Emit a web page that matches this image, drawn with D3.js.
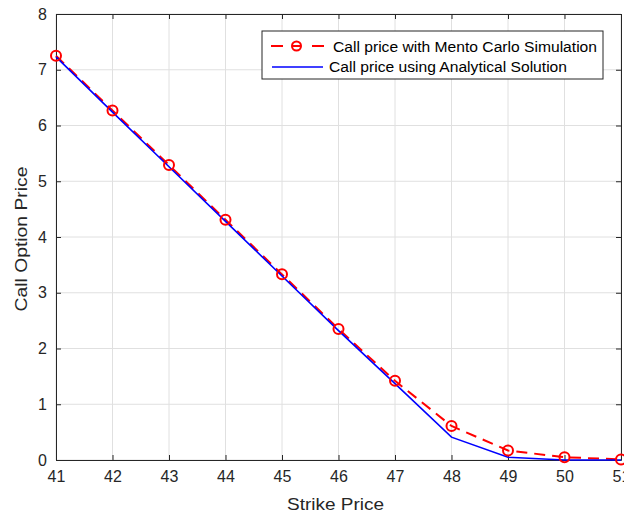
<!DOCTYPE html>
<html><head><meta charset="utf-8">
<script src="https://cdn.jsdelivr.net/npm/d3@7"></script>
<style>body{margin:0;background:#fff;} svg{display:block;font-family:"Liberation Sans",Arial,sans-serif;}</style>
</head><body><svg id="c" width="624" height="515"></svg>
<script>
const strikes = [41,42,43,44,45,46,47,48,49,50,51];
const mcPrices = [7.25,6.27,5.29,4.31,3.33,2.35,1.42,0.61,0.17,0.05,0.01];
const anPrices = [7.23,6.24,5.26,4.28,3.30,2.32,1.37,0.41,0.05,0.00,0.00];
const xTicks = [41,42,43,44,45,46,47,48,49,50,51];
const yTicks = [0,1,2,3,4,5,6,7,8];
const seriesNames = ["Call price with Mento Carlo Simulation","Call price using Analytical Solution"];

const svg = d3.select("#c");
const L=56, R=621, T=14, B=460;
const x = d3.scaleLinear().domain([41,51]).range([L,R]);
const y = d3.scaleLinear().domain([0,8]).range([B,T]);
const grid = svg.append("g");
xTicks.forEach(t=>grid.append("line").attr("x1",x(t)).attr("x2",x(t)).attr("y1",T).attr("y2",B).attr("stroke","#e0e0e0").attr("stroke-width",1));
yTicks.forEach(t=>grid.append("line").attr("x1",L).attr("x2",R).attr("y1",y(t)).attr("y2",y(t)).attr("stroke","#e0e0e0").attr("stroke-width",1));

const xa = svg.append("g").attr("transform",`translate(0,${B})`).call(d3.axisBottom(x).tickValues(xTicks).tickSizeInner(-5).tickSizeOuter(0).tickPadding(11));
const xt = svg.append("g").attr("transform",`translate(0,${T})`).call(d3.axisTop(x).tickValues(xTicks).tickSizeInner(-5).tickSizeOuter(0).tickFormat(""));
const ya = svg.append("g").attr("transform",`translate(${L},0)`).call(d3.axisLeft(y).tickValues(yTicks).tickSizeInner(-5).tickSizeOuter(0).tickPadding(9));
const yr = svg.append("g").attr("transform",`translate(${R},0)`).call(d3.axisRight(y).tickValues(yTicks).tickSizeInner(-5).tickSizeOuter(0).tickFormat(""));
[xa,xt,ya,yr].forEach(g=>{g.select(".domain").attr("stroke","#262626");g.selectAll(".tick line").attr("stroke","#262626");g.selectAll("text").attr("font-size",16).attr("fill","#262626").attr("font-family","Liberation Sans, Arial, sans-serif");});

const line = d3.line();
svg.append("path").attr("d",line(strikes.map((s,i)=>[x(s),y(mcPrices[i])]))).attr("fill","none").attr("stroke","#ff0000").attr("stroke-width",2).attr("stroke-dasharray","11,7");
svg.append("path").attr("d",line(strikes.map((s,i)=>[x(s),y(anPrices[i])]))).attr("fill","none").attr("stroke","#0000ff").attr("stroke-width",1.6);
svg.selectAll("circle.mc").data(strikes).enter().append("circle").attr("cx",d=>x(d)).attr("cy",(d,i)=>y(mcPrices[i])).attr("r",5).attr("fill","none").attr("stroke","#ff0000").attr("stroke-width",2);

svg.append("text").attr("x",335.5).attr("y",510).attr("text-anchor","middle").attr("font-size",17).attr("fill","#262626").attr("textLength",97).attr("lengthAdjust","spacingAndGlyphs").text("Strike Price");
svg.append("text").attr("transform",`translate(26.5,239) rotate(-90)`).attr("text-anchor","middle").attr("font-size",17).attr("fill","#262626").attr("textLength",145).attr("lengthAdjust","spacingAndGlyphs").text("Call Option Price");

const lg = svg.append("g");
lg.append("rect").attr("x",262).attr("y",31).attr("width",341).attr("height",48).attr("fill","#fff").attr("stroke","#262626").attr("stroke-width",1);
lg.append("line").attr("x1",271).attr("x2",324).attr("y1",46).attr("y2",46).attr("stroke","#ff0000").attr("stroke-width",2).attr("stroke-dasharray","12,9,9,11,12");
lg.append("circle").attr("cx",296.5).attr("cy",46).attr("r",4.5).attr("fill","none").attr("stroke","#ff0000").attr("stroke-width",2);
lg.append("text").attr("x",333).attr("y",51.5).attr("font-size",15.5).attr("fill","#000").attr("textLength",264).attr("lengthAdjust","spacingAndGlyphs").text(seriesNames[0]);
lg.append("line").attr("x1",272).attr("x2",323).attr("y1",67).attr("y2",67).attr("stroke","#0000ff").attr("stroke-width",1.6);
lg.append("text").attr("x",329).attr("y",72.3).attr("font-size",15.5).attr("fill","#000").attr("textLength",238).attr("lengthAdjust","spacingAndGlyphs").text(seriesNames[1]);
</script></body></html>
